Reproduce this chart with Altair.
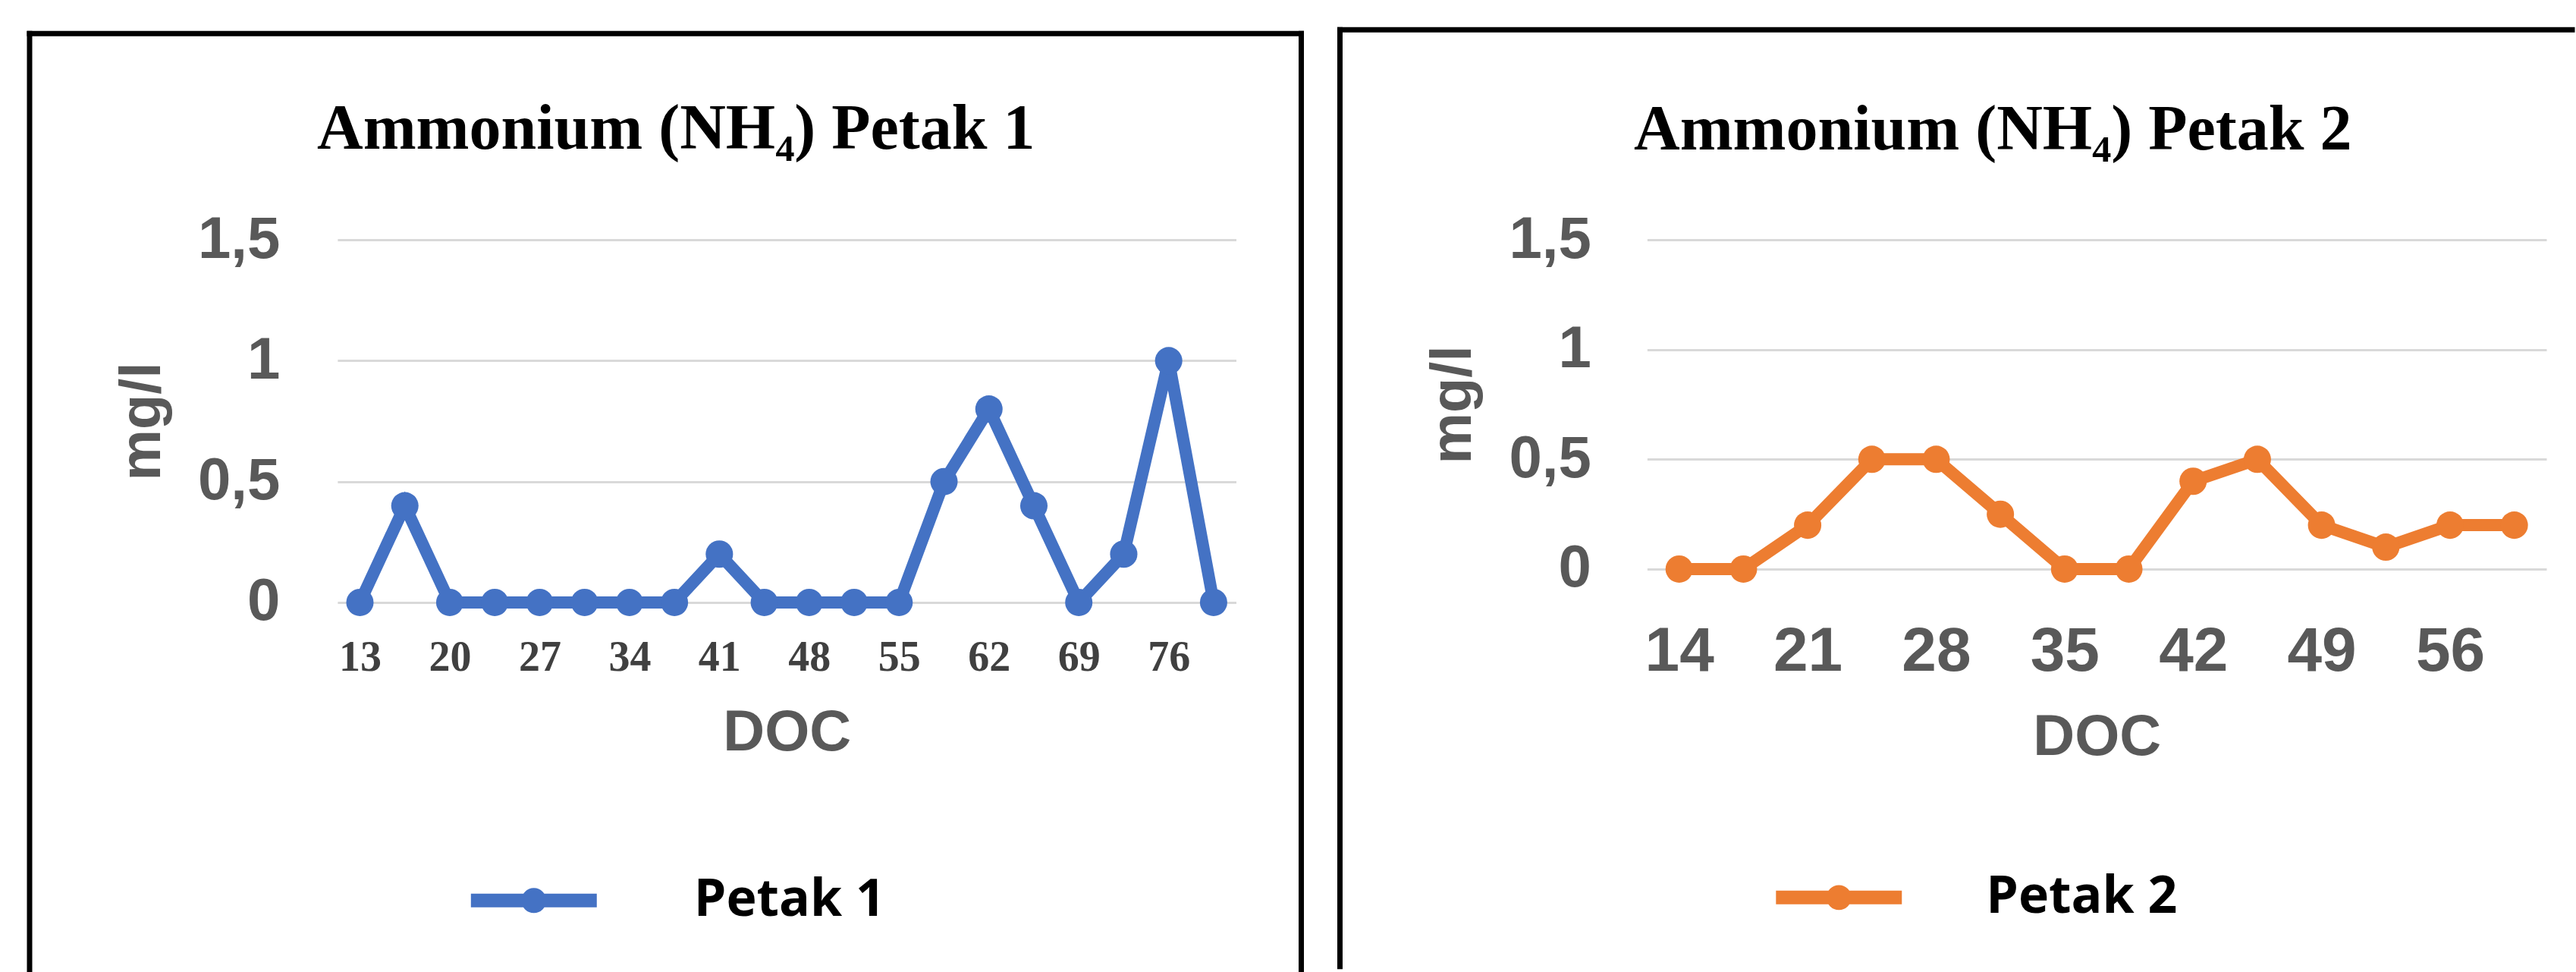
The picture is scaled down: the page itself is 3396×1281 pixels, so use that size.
import altair as alt
import pandas as pd

# ---- data -------------------------------------------------------------
doc1 = ["13", "16", "20", "23", "27", "30", "34", "37", "41", "44",
        "48", "51", "55", "58", "62", "65", "69", "72", "76", "79"]
nh4_1 = [0, 0.4, 0, 0, 0, 0, 0, 0, 0.2, 0,
         0, 0, 0, 0.5, 0.8, 0.4, 0, 0.2, 1.0, 0]
ticks1 = ["13", "20", "27", "34", "41", "48", "55", "62", "69", "76"]

doc2 = ["14", "17", "21", "24", "28", "31", "35", "38", "42", "45",
        "49", "52", "56", "59"]
nh4_2 = [0, 0, 0.2, 0.5, 0.5, 0.25, 0, 0, 0.4, 0.5, 0.2, 0.1, 0.2, 0.2]
ticks2 = ["14", "21", "28", "35", "42", "49", "56"]

y_ticks = [0, 0.5, 1, 1.5]
series_names = ["Petak 1", "Petak 2"]
series_colors = ["#4472C4", "#ED7D31"]
titles = ["Ammonium (NH\u2084) Petak 1", "Ammonium (NH\u2084) Petak 2"]

GRAY = "#595959"
LEGEND_PATH = ("M-1,0H1M0.09,0A0.09,0.09,0,1,1,-0.09,0"
               "A0.09,0.09,0,1,1,0.09,0")


def panel(doc, vals, ticks, name, color, title, w, h,
          xfont, xsize, xcolor, xpad, ypad,
          title_dx, title_offset, xtitle_y, ytitle_x,
          leg_x, leg_y, leg_off, box):
    df = pd.DataFrame({"DOC": doc, "mg/l": vals, "Seri": [name] * len(doc)})

    x = alt.X(
        "DOC:O", sort=doc,
        scale=alt.Scale(type="point", padding=0.5),
        axis=alt.Axis(
            values=ticks, labelAngle=0, labelFont=xfont, labelFontSize=xsize,
            labelFontWeight="bold", labelColor=xcolor, labelPadding=xpad,
            domain=False, ticks=False, grid=False,
            title="DOC", titleFont="Liberation Sans", titleFontSize=76,
            titleFontWeight="bold", titleColor=GRAY,
            titleX=w / 2, titleY=xtitle_y, titleAlign="center",
            titleBaseline="middle",
        ),
    )
    y = alt.Y(
        "mg/l:Q",
        scale=alt.Scale(domain=[0, 1.5], nice=False),
        axis=alt.Axis(
            values=y_ticks,
            labelExpr="replace(toString(datum.value), '.', ',')",
            labelFont="Liberation Sans", labelFontSize=78,
            labelFontWeight="bold", labelColor=GRAY, labelPadding=ypad,
            domain=False, ticks=False, grid=True,
            gridColor="#d9d9d9", gridWidth=3,
            title="mg/l", titleFont="Liberation Sans", titleFontSize=76,
            titleFontWeight="bold", titleColor=GRAY,
            titleX=ytitle_x, titleY=h / 2, titleAlign="center",
            titleBaseline="middle", titleAngle=270,
        ),
    )
    c = alt.Color(
        "Seri:N",
        scale=alt.Scale(domain=[name], range=[color]),
        legend=alt.Legend(
            title=None, orient="none", legendX=leg_x, legendY=leg_y,
            padding=0, symbolType=LEGEND_PATH, symbolSize=27556,
            symbolStrokeWidth=18, symbolStrokeColor=color,
            symbolFillColor=color, symbolOffset=0,
            labelFont="Open Sans", labelFontSize=68, labelFontWeight="bold",
            labelColor="black", labelOffset=leg_off, labelLimit=0,
        ),
    )
    line = alt.Chart(df).mark_line(
        strokeWidth=16,
        point=alt.OverlayMarkDef(size=1300, filled=True, opacity=1),
    ).encode(x=x, y=y, color=c)

    bx1, bx2, by1, by2, draw_right = box
    bdf = pd.DataFrame({"k": [0]})
    rule_kw = dict(color="black", strokeWidth=7, strokeCap="square")
    layers = [
        alt.Chart(bdf).mark_rule(**rule_kw).encode(
            x=alt.value(bx1), y=alt.value(by1), y2=alt.value(by2)),
        alt.Chart(bdf).mark_rule(**rule_kw).encode(
            x=alt.value(bx1), x2=alt.value(bx2), y=alt.value(by1)),
    ]
    if draw_right:
        layers.append(alt.Chart(bdf).mark_rule(**rule_kw).encode(
            x=alt.value(bx2), y=alt.value(by1), y2=alt.value(by2)))

    return alt.layer(line, *layers).properties(
        width=w, height=h,
        title=alt.TitleParams(
            text=title, font="Liberation Serif", fontSize=84,
            fontWeight="bold", color="black", anchor="middle",
            frame="group", dx=title_dx, offset=title_offset,
            baseline="alphabetic",
        ),
    )


p1 = panel(doc1, nh4_1, ticks1, series_names[0], series_colors[0], titles[0],
           1185, 478, "Liberation Serif", 56, "#404040", 46, 76,
           -146, -241, 172, -257,
           167, 779, 119, (-406, 1271, -272, 964, True))

p2 = panel(doc2, nh4_2, ticks2, series_names[1], series_colors[1], titles[1],
           1186, 434, "Liberation Sans", 82, GRAY, 69, 74,
           -137, -247, 222, -256,
           161, 775, 102, (-405, 1220, -277, 958, False))

chart = alt.hconcat(p1, p2, spacing=41).resolve_scale(
    color="independent"
).resolve_legend(
    color="independent"
).properties(
    padding={"left": 34, "top": 34, "right": 0, "bottom": 0},
    background="white",
).configure_view(stroke=None)

chart.save("out.html", embed_options={"renderer": "svg", "actions": False})
